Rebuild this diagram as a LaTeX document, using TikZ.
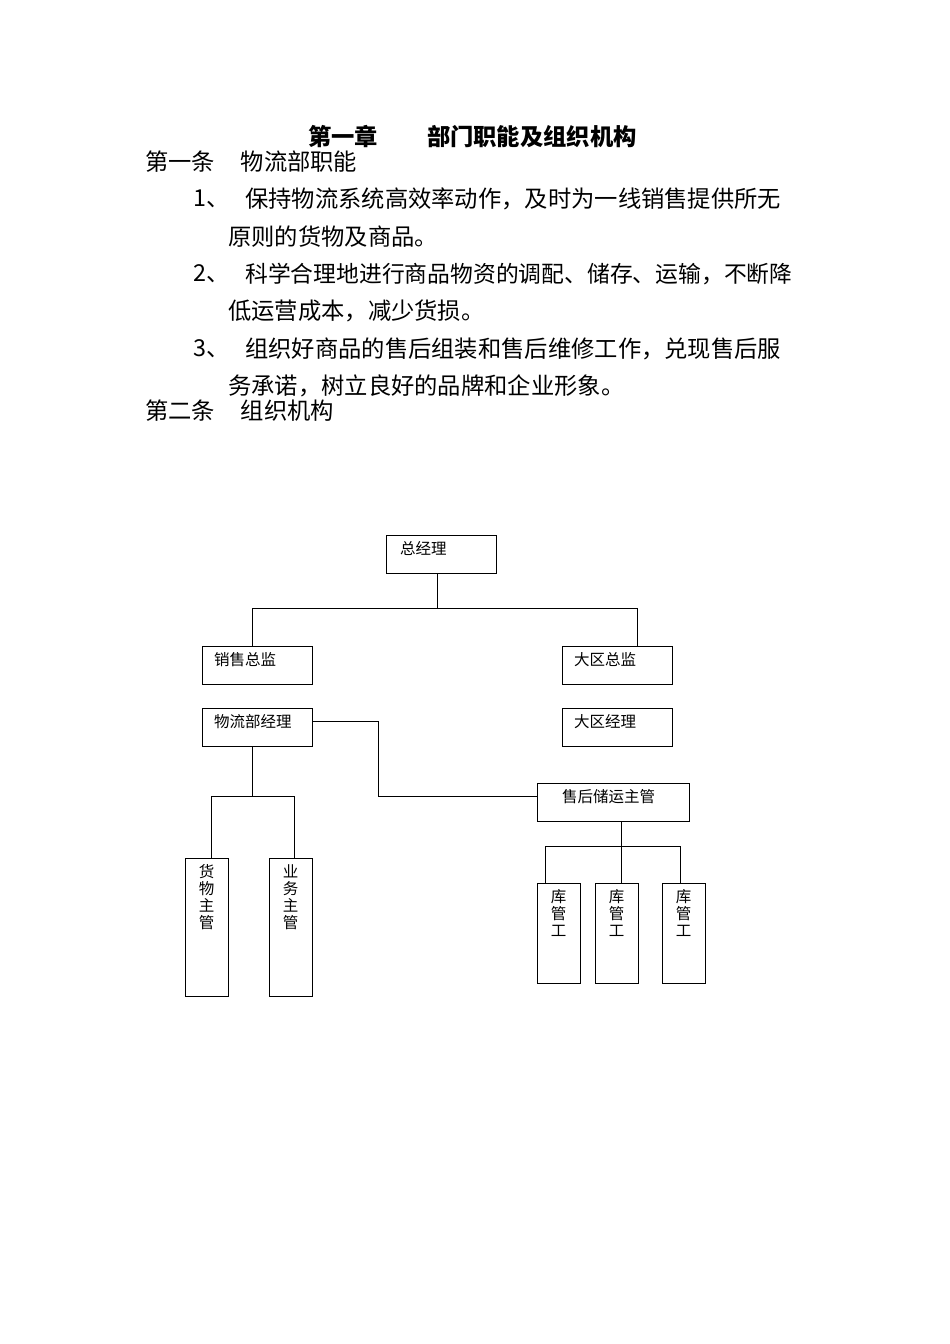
\documentclass[tikz,border=0pt]{standalone}
\usepackage{fontspec}
\newfontfamily\cjk{Noto Sans CJK SC}
\begin{document}
\begin{tikzpicture}[x=1pt,y=-1pt,
  box/.style={draw,line width=0.8pt},
  lbl/.style={anchor=north west,inner sep=0pt,font=\cjk\fontsize{15.5}{17}\selectfont},
  vlbl/.style={anchor=north,inner sep=0pt,align=center,font=\cjk\fontsize{15.5}{17}\selectfont},
  body/.style={anchor=west,inner sep=0pt,font=\cjk\fontsize{23.3}{26}\selectfont},
  ln/.style={line width=0.8pt}]
\useasboundingbox (0,0) rectangle (950,1344);
\node[anchor=west,inner sep=0pt,font=\cjk\bfseries\fontsize{23.3}{26}\selectfont] (title) at (308,137) {第一章\hspace{2.1em}部门职能及组织机构};
\node[body] (a1) at (145,162) {第一条\hspace{1.1em}物流部职能};
\node[body] (n1) at (193,199) {1、};
\node[body] (t1) at (245,199) {保持物流系统高效率动作，及时为一线销售提供所无};
\node[body] (t1b) at (228,237) {原则的货物及商品。};
\node[body] (n2) at (193,274) {2、};
\node[body] (t2) at (245,274) {\fontsize{22.8}{26}\selectfont 科学合理地进行商品物资的调配、储存、运输，不断降};
\node[body] (t2b) at (228,311) {低运营成本，减少货损。};
\node[body] (n3) at (193,349) {3、};
\node[body] (t3) at (245,349) {组织好商品的售后组装和售后维修工作，兑现售后服};
\node[body] (t3b) at (228,386) {务承诺，树立良好的品牌和企业形象。};
\node[body] (a2) at (145,411) {第二条\hspace{1.1em}组织机构};
% boxes
\draw[box] (386,535) rectangle (496,573); \node[lbl] (zjl) at (400,541) {总经理};
\draw[box] (202,646) rectangle (312,684); \node[lbl] (xs) at (214,652) {销售总监};
\draw[box] (562,646) rectangle (672,684); \node[lbl] (dq) at (574,652) {大区总监};
\draw[box] (202,708) rectangle (312,746); \node[lbl] (wl) at (214,714) {物流部经理};
\draw[box] (562,708) rectangle (672,746); \node[lbl] (dqj) at (574,714) {大区经理};
\draw[box] (537,783) rectangle (689,821); \node[lbl] (sh) at (562,789) {售后储运主管};
\draw[box] (185,858) rectangle (228,996); \node[vlbl] (hw) at (206.5,864) {货\\物\\主\\管};
\draw[box] (269,858) rectangle (312,996); \node[vlbl] (yw) at (290.5,864) {业\\务\\主\\管};
\draw[box] (537,883) rectangle (580,983); \node[vlbl] (k1) at (558.5,889) {库\\管\\工};
\draw[box] (595,883) rectangle (638,983); \node[vlbl] (k2) at (616.5,889) {库\\管\\工};
\draw[box] (662,883) rectangle (705,983); \node[vlbl] (k3) at (683.5,889) {库\\管\\工};
% connectors
\draw[ln] (437,573) -- (437,608);
\draw[ln] (252,646) -- (252,608) -- (637,608) -- (637,646);
\draw[ln] (312,721) -- (378,721) -- (378,796) -- (537,796);
\draw[ln] (252,746) -- (252,796);
\draw[ln] (211,858) -- (211,796) -- (294,796) -- (294,858);
\draw[ln] (621,821) -- (621,883);
\draw[ln] (545,883) -- (545,846) -- (680,846) -- (680,883);
\end{tikzpicture}
\end{document}
